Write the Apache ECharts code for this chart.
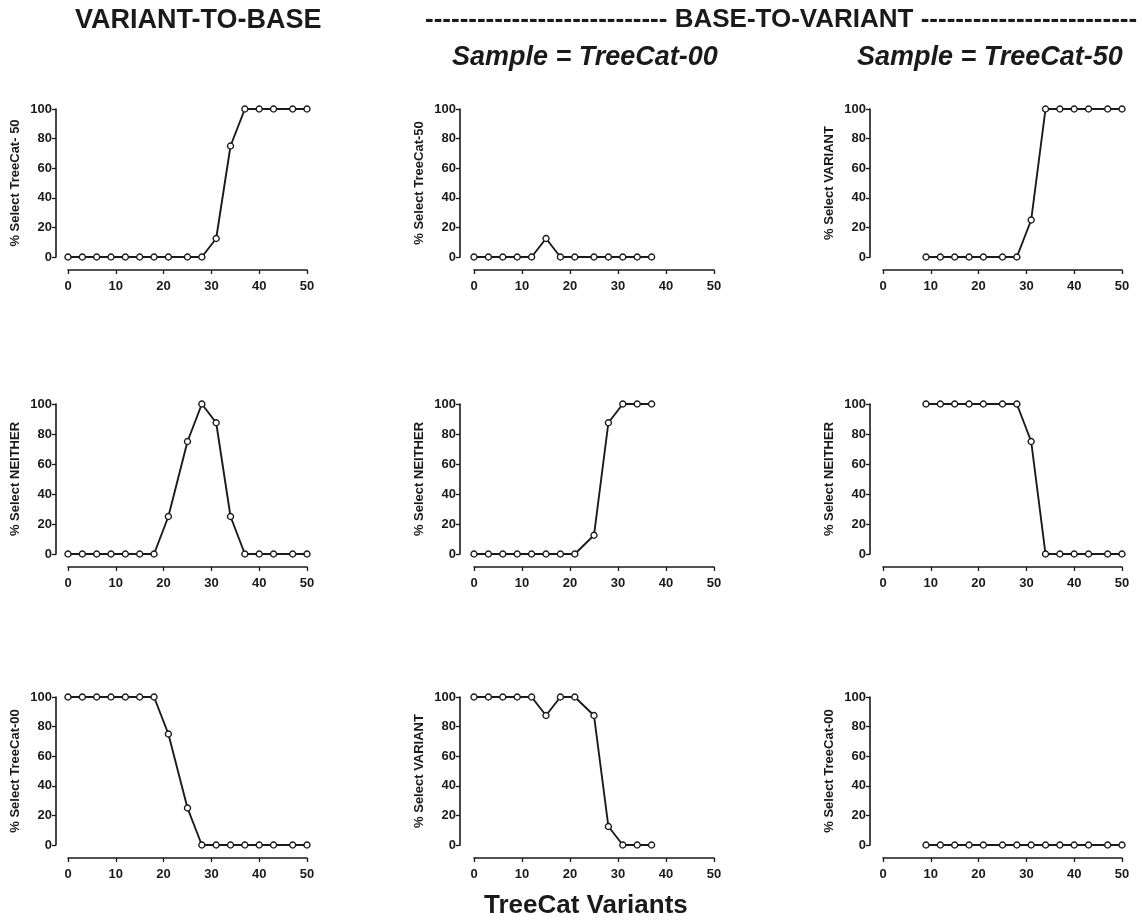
<!DOCTYPE html>
<html>
<head>
<meta charset="utf-8">
<script src="https://cdn.jsdelivr.net/npm/echarts@6/dist/echarts.min.js"></script>
<style>
  html, body { margin: 0; padding: 0; background: #fff; }
  #chart { width: 1142px; height: 921px; }
</style>
</head>
<body>
<div id="chart"></div>
<script>
// TreeCat variant levels (x positions) for each presentation condition
const xVariantToBase = [0, 3, 6, 9, 12, 15, 18, 21, 25, 28, 31, 34, 37, 40, 43, 47, 50];
const xSample00 = [0, 3, 6, 9, 12, 15, 18, 21, 25, 28, 31, 34, 37];
const xSample50 = [9, 12, 15, 18, 21, 25, 28, 31, 34, 37, 40, 43, 47, 50];

// Percent of choices, VARIANT-TO-BASE
const v2bTreeCat50 = [0, 0, 0, 0, 0, 0, 0, 0, 0, 0, 12.5, 75, 100, 100, 100, 100, 100];
const v2bNeither   = [0, 0, 0, 0, 0, 0, 0, 25, 75, 100, 87.5, 25, 0, 0, 0, 0, 0];
const v2bTreeCat00 = [100, 100, 100, 100, 100, 100, 100, 75, 25, 0, 0, 0, 0, 0, 0, 0, 0];

// Percent of choices, BASE-TO-VARIANT, sample = TreeCat-00
const s00TreeCat50 = [0, 0, 0, 0, 0, 12.5, 0, 0, 0, 0, 0, 0, 0];
const s00Neither   = [0, 0, 0, 0, 0, 0, 0, 0, 12.5, 87.5, 100, 100, 100];
const s00Variant   = [100, 100, 100, 100, 100, 87.5, 100, 100, 87.5, 12.5, 0, 0, 0];

// Percent of choices, BASE-TO-VARIANT, sample = TreeCat-50
const s50Variant   = [0, 0, 0, 0, 0, 0, 0, 25, 100, 100, 100, 100, 100, 100];
const s50Neither   = [100, 100, 100, 100, 100, 100, 100, 75, 0, 0, 0, 0, 0, 0];
const s50TreeCat00 = [0, 0, 0, 0, 0, 0, 0, 0, 0, 0, 0, 0, 0, 0];

// Axis ticks
const xTicks = { min: 0, max: 50, interval: 10 };
const yTicks = { min: 0, max: 100, interval: 20 };

// Headings
const headingLeft = 'VARIANT-TO-BASE';
const headingRight = '---------------------------- BASE-TO-VARIANT -------------------------';
const sampleLeft = 'Sample = TreeCat-00';
const sampleRight = 'Sample = TreeCat-50';
const xTitle = 'TreeCat Variants';

// Panels, row by row
const panels = [
  { xs: xVariantToBase, ys: v2bTreeCat50, yName: '% Select TreeCat- 50' },
  { xs: xSample00,      ys: s00TreeCat50, yName: '% Select TreeCat-50' },
  { xs: xSample50,      ys: s50Variant,   yName: '% Select VARIANT' },
  { xs: xVariantToBase, ys: v2bNeither,   yName: '% Select NEITHER' },
  { xs: xSample00,      ys: s00Neither,   yName: '% Select NEITHER' },
  { xs: xSample50,      ys: s50Neither,   yName: '% Select NEITHER' },
  { xs: xVariantToBase, ys: v2bTreeCat00, yName: '% Select TreeCat-00' },
  { xs: xSample00,      ys: s00Variant,   yName: '% Select VARIANT' },
  { xs: xSample50,      ys: s50TreeCat00, yName: '% Select TreeCat-00' }
];

const FONT = '"Liberation Sans", Arial, Helvetica, sans-serif';
const INK = '#1a1a1a';

const colLeft = [68, 474, 883];
const colWidth = [239, 240, 239];
const colYOffset = [12, 14, 13];
const rowTop = [109, 404, 697];
const rowHeight = [148, 150, 148];

const grids = [], xAxes = [], yAxes = [], series = [];

panels.forEach((p, i) => {
  const r = Math.floor(i / 3), c = i % 3;
  grids.push({ left: colLeft[c], top: rowTop[r], width: colWidth[c], height: rowHeight[r] });
  xAxes.push({
    type: 'value', gridIndex: i, min: xTicks.min, max: xTicks.max, interval: xTicks.interval,
    offset: 13,
    axisLine: { show: true, onZero: false, lineStyle: { color: INK, width: 1.6 } },
    axisTick: { show: true, length: 4, lineStyle: { color: INK, width: 1.3 } },
    axisLabel: { color: INK, fontFamily: FONT, fontWeight: 'bold', fontSize: 13, margin: 10 },
    splitLine: { show: false }
  });
  yAxes.push({
    type: 'value', gridIndex: i, min: yTicks.min, max: yTicks.max, interval: yTicks.interval,
    offset: colYOffset[c],
    name: p.yName, nameLocation: 'middle', nameGap: 34, nameRotate: 90,
    nameTextStyle: { color: INK, fontFamily: FONT, fontWeight: 'bold', fontSize: 13 },
    axisLine: { show: true, onZero: false, lineStyle: { color: INK, width: 1.6 } },
    axisTick: { show: true, length: 4, lineStyle: { color: INK, width: 1.3 } },
    axisLabel: { color: INK, fontFamily: FONT, fontWeight: 'bold', fontSize: 13, margin: 4 },
    splitLine: { show: false }
  });
  series.push({
    type: 'line', xAxisIndex: i, yAxisIndex: i,
    data: p.xs.map((x, k) => [x, p.ys[k]]),
    symbol: 'circle', symbolSize: 6, showAllSymbol: true,
    lineStyle: { color: INK, width: 1.9 },
    itemStyle: { color: '#fff', borderColor: INK, borderWidth: 1.4 },
    clip: false, animation: false
  });
});

const chart = echarts.init(document.getElementById('chart'), null, { renderer: 'canvas' });
chart.setOption({
  backgroundColor: '#fff',
  animation: false,
  grid: grids,
  xAxis: xAxes,
  yAxis: yAxes,
  series: series,
  graphic: [
    { type: 'text', left: 75, top: 7,
      style: { text: headingLeft, fill: INK, font: 'bold 27px ' + FONT } },
    { type: 'text', left: 425, top: 7,
      style: { text: headingRight, fill: INK, font: 'bold 26px ' + FONT } },
    { type: 'text', left: 452, top: 44,
      style: { text: sampleLeft, fill: INK, font: 'italic bold 27px ' + FONT } },
    { type: 'text', left: 857, top: 44,
      style: { text: sampleRight, fill: INK, font: 'italic bold 27px ' + FONT } },
    { type: 'text', left: 484, top: 893,
      style: { text: xTitle, fill: INK, font: 'bold 26px ' + FONT } }
  ]
});
</script>
</body>
</html>
